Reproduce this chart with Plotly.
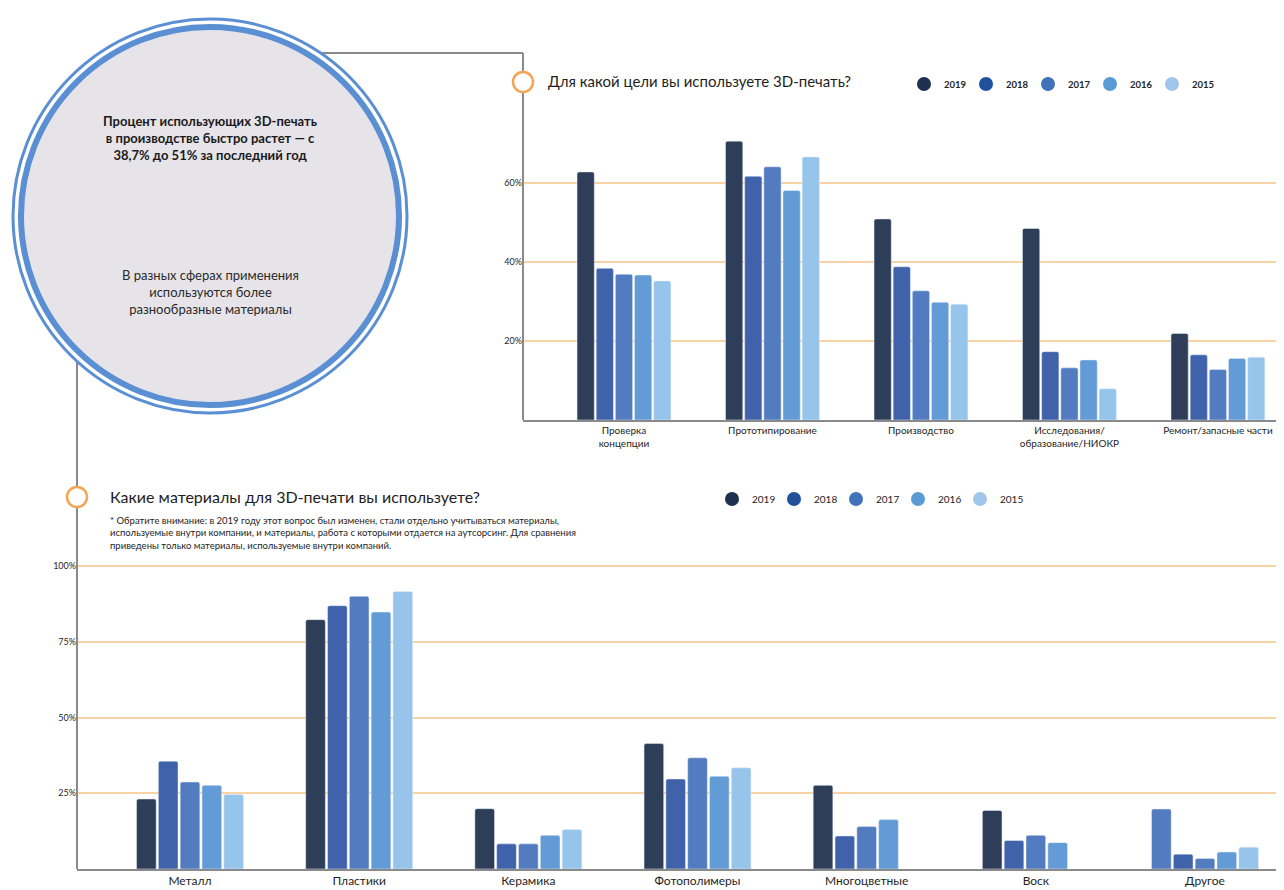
"""3D printing survey: purposes and materials, grouped bars by year."""

import plotly.graph_objects as go

# the page body has an 8px margin, so the figure is drawn 8px in from the corner
OFF = 8
W, H = 1284 - OFF, 890 - OFF

YEARS = ["2019", "2018", "2017", "2016", "2015"]

purpose_cats = [
    "Проверка<br>концепции",
    "Прототипирование",
    "Производство",
    "Исследования/<br>образование/НИОКР",
    "Ремонт/запасные части",
]
purpose_2019 = [62.8, 70.6, 50.9, 48.5, 21.9]
purpose_2018 = [38.4, 61.7, 38.8, 17.3, 16.5]
purpose_2017 = [36.9, 64.1, 32.7, 13.2, 12.8]
purpose_2016 = [36.7, 58.1, 29.8, 15.2, 15.6]
purpose_2015 = [35.2, 66.6, 29.3, 7.9, 15.9]
purpose_ticks = [20, 40, 60]

material_cats = ["Металл", "Пластики", "Керамика", "Фотополимеры",
                 "Многоцветные", "Воск", "Другое"]
material_2019 = [23.1, 82.3, 19.9, 41.4, 27.6, 19.3, 19.8]
material_2018 = [35.6, 86.9, 8.3, 29.7, 10.9, 9.4, 4.9]
material_2017 = [28.7, 90.0, 8.3, 36.7, 14.0, 11.1, 3.5]
material_2016 = [27.6, 84.8, 11.1, 30.6, 16.3, 8.7, 5.6]
material_2015 = [24.6, 91.6, 13.0, 33.4, None, None, 7.2]
material_ticks = [25, 50, 75, 100]

BAR_COLORS = ["#2E3D58", "#4062AA", "#537BBF", "#629BD6", "#97C4EB"]
LEGEND_COLORS = ["#1E2F4F", "#21509D", "#4273BA", "#5A9BD6", "#A0C6EA"]
GRID = "#F9D3A6"
AXIS = "#8A8A8A"
RING = "#5B8FD4"
ORANGE = "#F4A456"
FONT = "Lato, 'Liberation Sans', sans-serif"

BASE2 = 869  # pixel row of the lower chart's baseline


def px(x):
    return (x - OFF) / W


def py(y):
    return 1 - (y - OFF) / H


fig = go.Figure()

top_series = [purpose_2019, purpose_2018, purpose_2017, purpose_2016, purpose_2015]
for year, vals, color in zip(YEARS, top_series, BAR_COLORS):
    fig.add_trace(go.Bar(
        x=purpose_cats, y=vals, name=year,
        marker=dict(color=color, cornerradius=2),
        xaxis="x", yaxis="y", showlegend=False,
    ))

bottom_series = [material_2019, material_2018, material_2017, material_2016, material_2015]
for i, (year, vals, color) in enumerate(zip(YEARS, bottom_series, BAR_COLORS)):
    colors = [color] * len(material_cats)
    if i == 0:
        # the "other" bar of 2019 is drawn in a lighter blue in the source
        colors[-1] = BAR_COLORS[2]
    fig.add_trace(go.Bar(
        x=material_cats, y=vals, name=year,
        marker=dict(color=colors, cornerradius=2),
        xaxis="x2", yaxis="y2", showlegend=False,
    ))

# legend entries with round markers
for year, color in zip(YEARS, LEGEND_COLORS):
    fig.add_trace(go.Scatter(
        x=[None], y=[None], mode="markers", name=year,
        marker=dict(size=14, color=color), legend="legend",
        xaxis="x", yaxis="y",
    ))
    fig.add_trace(go.Scatter(
        x=[None], y=[None], mode="markers", name=year,
        marker=dict(size=14, color=color), legend="legend2",
        xaxis="x2", yaxis="y2",
    ))
# empty trailing entries so the last label is not clipped by the legend box
for leg, xa, ya in [("legend", "x", "y"), ("legend2", "x2", "y2")]:
    fig.add_trace(go.Scatter(
        x=[None], y=[None], mode="markers", name=" ",
        marker=dict(size=14, color="rgba(0,0,0,0)"), legend=leg,
        xaxis=xa, yaxis=ya, hoverinfo="skip",
    ))

shapes = [
    # connector lines
    dict(type="line", xref="paper", yref="paper", x0=px(320), x1=px(523),
         y0=py(53), y1=py(53), line=dict(color=AXIS, width=2)),
    dict(type="line", xref="paper", yref="paper", x0=px(523), x1=px(523),
         y0=py(53), y1=py(420), line=dict(color=AXIS, width=2)),
    dict(type="line", xref="paper", yref="paper", x0=px(77), x1=px(77),
         y0=py(360), y1=py(BASE2), line=dict(color=AXIS, width=2)),
    # big circle
    dict(type="circle", xref="paper", yref="paper",
         x0=px(210 - 197), x1=px(210 + 197), y0=py(216 + 197), y1=py(216 - 197),
         line=dict(color=RING, width=3), fillcolor="white"),
    dict(type="circle", xref="paper", yref="paper",
         x0=px(210 - 189), x1=px(210 + 189), y0=py(216 + 189), y1=py(216 - 189),
         line=dict(color=RING, width=6), fillcolor="#E6E4E9"),
    # orange markers
    dict(type="circle", xref="paper", yref="paper",
         x0=px(523 - 10), x1=px(523 + 10), y0=py(82 + 10), y1=py(82 - 10),
         line=dict(color=ORANGE, width=2.5), fillcolor="white"),
    dict(type="circle", xref="paper", yref="paper",
         x0=px(77 - 10), x1=px(77 + 10), y0=py(497 + 10), y1=py(497 - 10),
         line=dict(color=ORANGE, width=2.5), fillcolor="white"),
]

annotations = [
    dict(text="<b>Процент использующих 3D-печать<br>в производстве быстро растет — с<br>38,7% до 51% за последний год</b>",
         x=px(210), y=py(138), xref="paper", yref="paper", showarrow=False,
         xanchor="center", yanchor="middle", align="center",
         font=dict(size=13, color="#1A1A1A", family=FONT)),
    dict(text="В разных сферах применения<br>используются более<br>разнообразные материалы",
         x=px(210), y=py(292), xref="paper", yref="paper", showarrow=False,
         xanchor="center", yanchor="middle", align="center",
         font=dict(size=13, color="#2A2A2A", family=FONT)),
    dict(text="Для какой цели вы используете 3D-печать?",
         x=px(546), y=py(81), xref="paper", yref="paper", showarrow=False,
         xanchor="left", yanchor="middle",
         font=dict(size=15, color="#1E1E1E", family=FONT)),
    dict(text="Какие материалы для 3D-печати вы используете?",
         x=px(108), y=py(496), xref="paper", yref="paper", showarrow=False,
         xanchor="left", yanchor="middle",
         font=dict(size=16, color="#1E1E1E", family=FONT)),
    dict(text="* Обратите внимание: в 2019 году этот вопрос был изменен, стали отдельно учитываться материалы,<br>"
              "используемые внутри компании, и материалы, работа с которыми отдается на аутсорсинг. Для сравнения<br>"
              "приведены только материалы, используемые внутри компаний.",
         x=px(108), y=py(513), xref="paper", yref="paper", showarrow=False,
         xanchor="left", yanchor="top", align="left",
         font=dict(size=9.5, color="#1E1E1E", family=FONT)),
]

legend_style = dict(
    orientation="h", xanchor="left", yanchor="middle",
    entrywidth=17, entrywidthmode="pixels",
    bgcolor="rgba(0,0,0,0)", tracegroupgap=0,
)

fig.update_layout(
    width=W, height=H,
    margin=dict(l=0, r=0, t=0, b=0, autoexpand=False),
    paper_bgcolor="white", plot_bgcolor="white",
    barmode="group", bargap=0.355, bargroupgap=0.1,
    font=dict(family=FONT, color="#222222"),
    shapes=shapes, annotations=annotations,
    legend=dict(x=px(904), y=py(84),
                font=dict(size=9.5, color="#222222", family=FONT, weight="bold"),
                **legend_style),
    legend2=dict(x=px(712), y=py(499),
                 font=dict(size=10, color="#222222", family=FONT),
                 **legend_style),
    xaxis=dict(
        domain=[px(523), 1], range=[-0.68, 4.445], anchor="y",
        showline=True, linecolor=AXIS, linewidth=2, ticks="",
        tickfont=dict(size=10, color="#1E1E1E", family=FONT), showgrid=False,
    ),
    yaxis=dict(
        domain=[py(420), py(420 - 72 * 3.95)], range=[0, 72], anchor="x",
        tickvals=purpose_ticks, ticktext=[f"{v}%" for v in purpose_ticks],
        ticks="", showgrid=True, gridcolor=GRID, gridwidth=2, zeroline=False,
        showline=False, tickfont=dict(size=9, color="#1E1E1E", family=FONT),
    ),
    xaxis2=dict(
        domain=[px(77), 1], range=[-0.668, 6.467], anchor="y2",
        showline=True, linecolor=AXIS, linewidth=2, ticks="",
        ticklabelstandoff=0,
        tickfont=dict(size=12, color="#1E1E1E", family=FONT), showgrid=False,
    ),
    yaxis2=dict(
        domain=[py(BASE2), py(BASE2 - 105 * 3.03)], range=[0, 105], anchor="x2",
        tickvals=material_ticks, ticktext=[f"{v}%" for v in material_ticks],
        ticks="", showgrid=True, gridcolor=GRID, gridwidth=2, zeroline=False,
        showline=False, tickfont=dict(size=9, color="#1E1E1E", family=FONT),
    ),
)

fig.write_html("out.html")
